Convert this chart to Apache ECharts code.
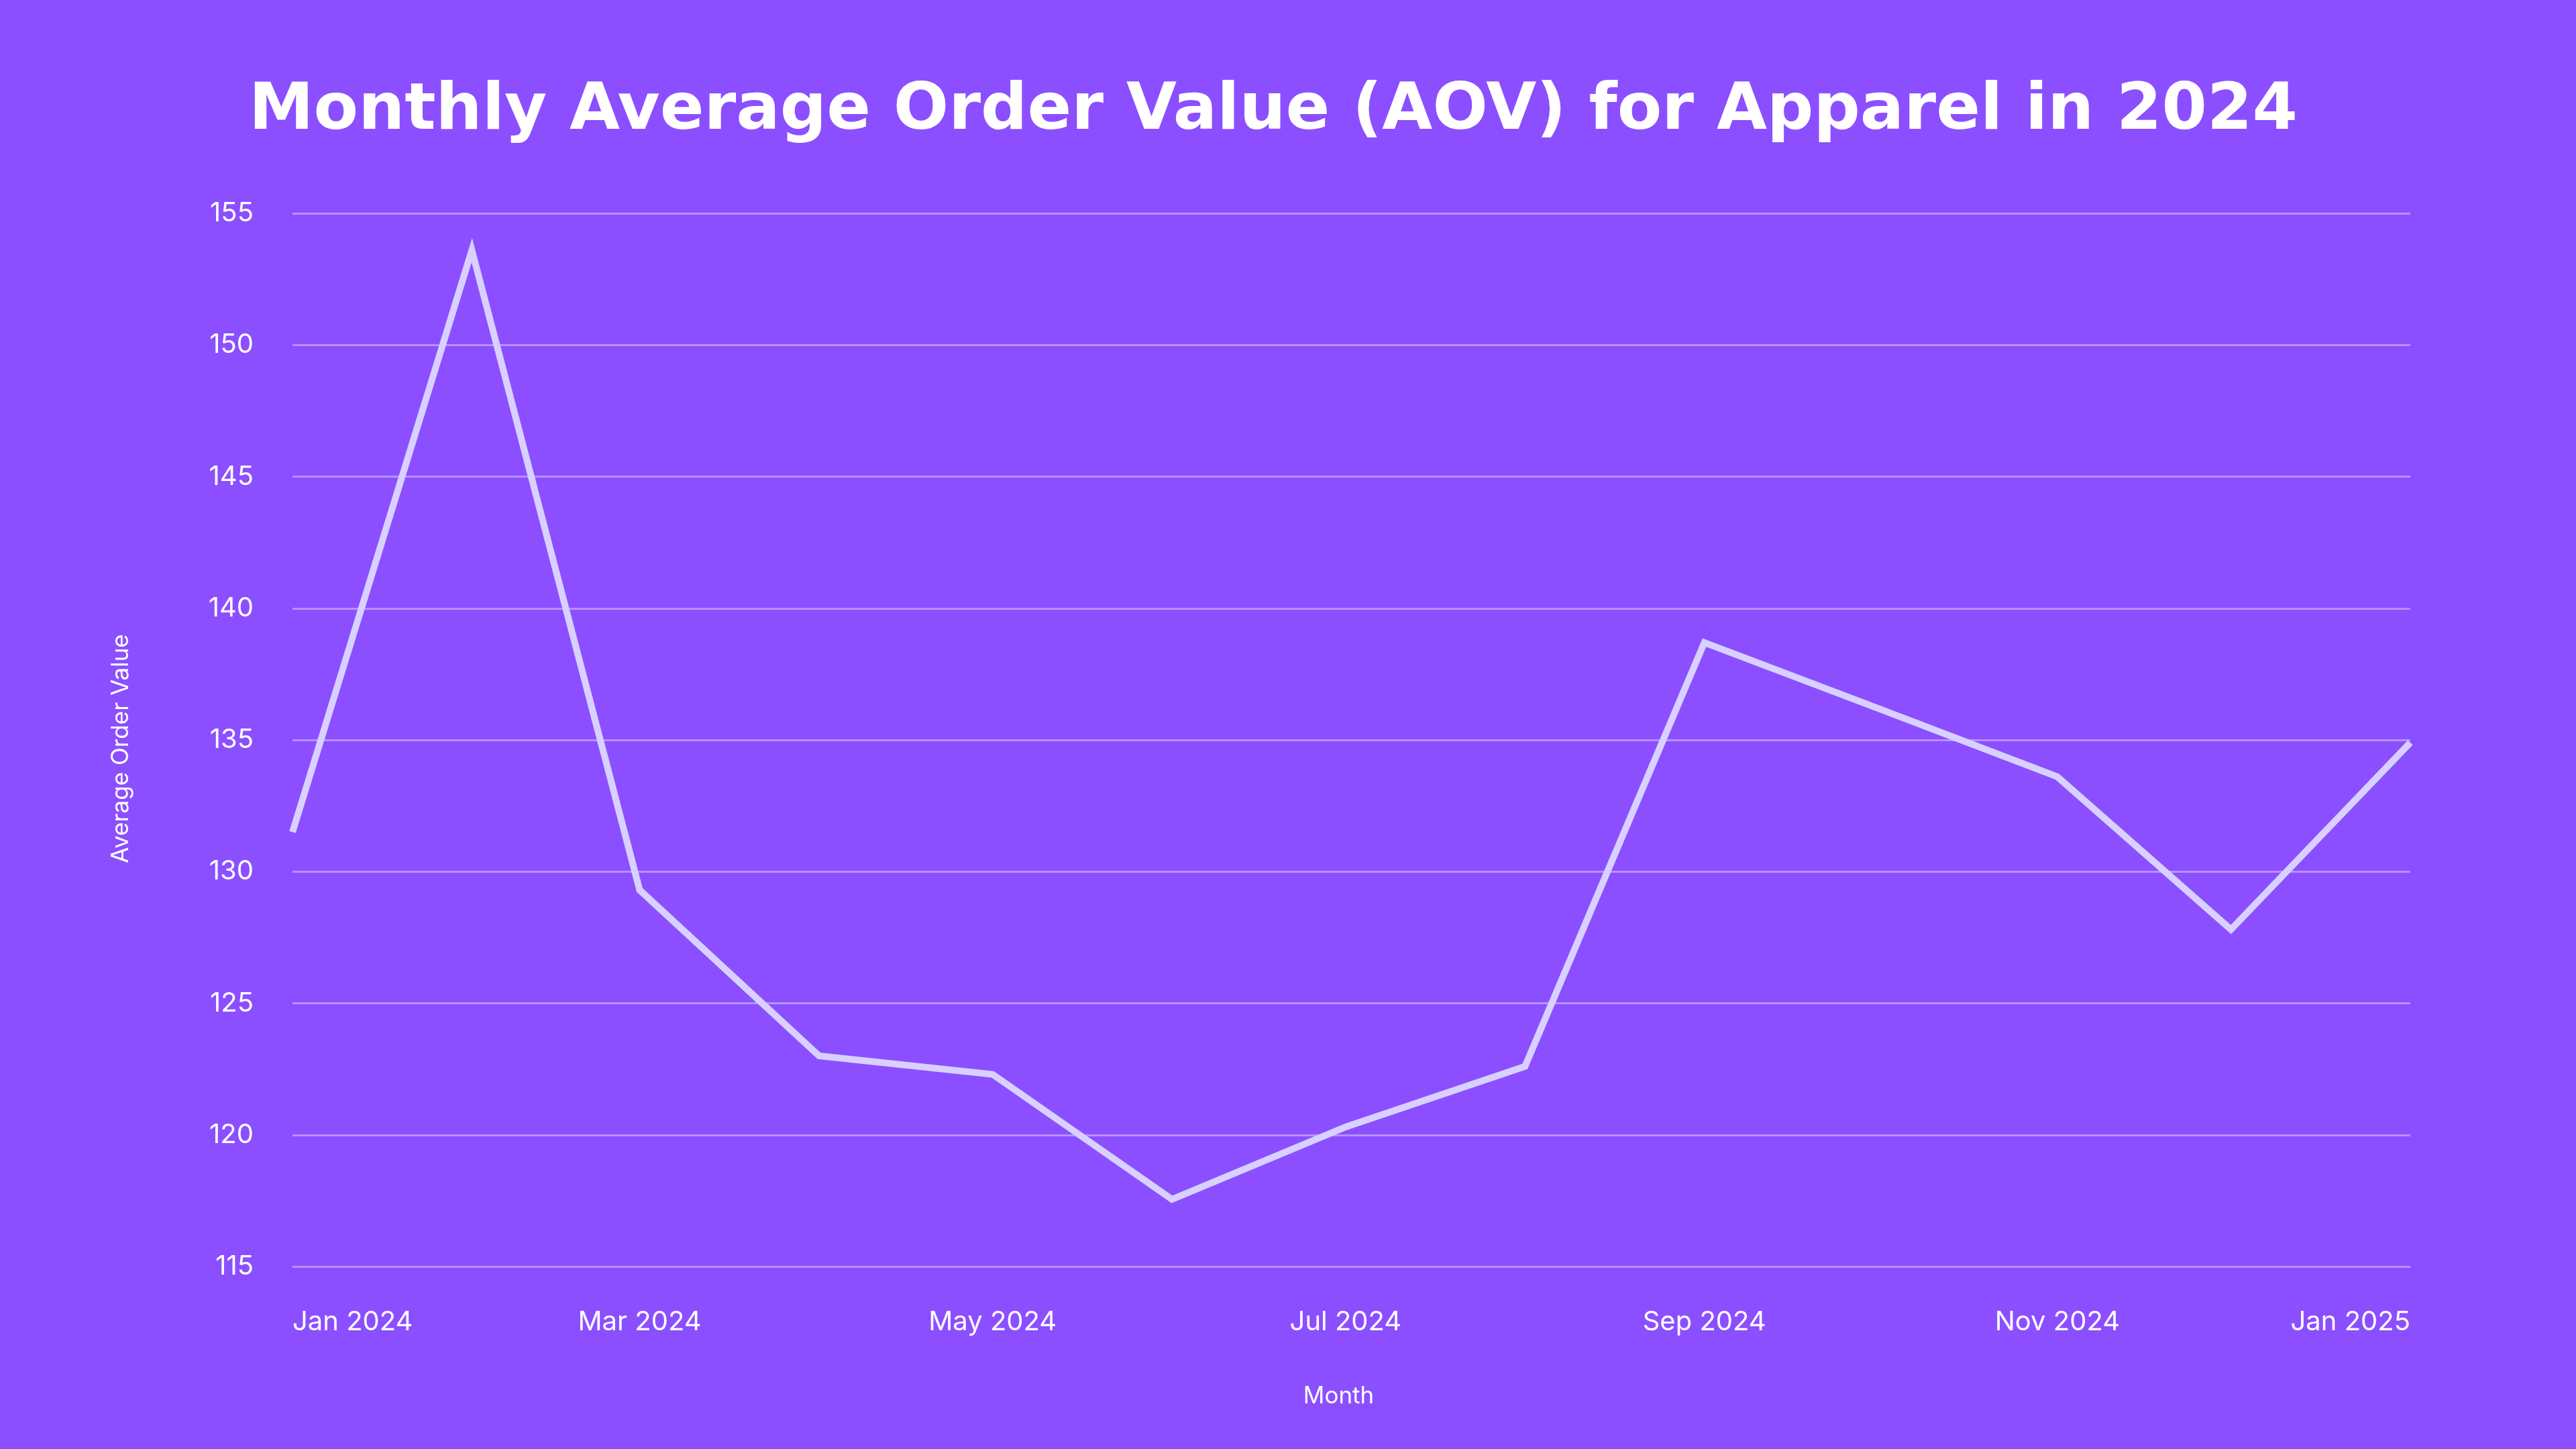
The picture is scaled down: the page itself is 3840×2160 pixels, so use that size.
<!DOCTYPE html>
<html>
<head>
<meta charset="utf-8">
<title>Monthly Average Order Value (AOV) for Apparel in 2024</title>
<script src="https://cdn.jsdelivr.net/npm/echarts@6/dist/echarts.min.js"></script>
<style>
  html, body { margin: 0; padding: 0; background: #8B4FFF; }
  #chart { width: 3840px; height: 2160px; }
</style>
</head>
<body>
<div id="chart"></div>
<script>
// month starts, Jan 2024 .. Jan 2025
const months = [
  "2024-01-01", "2024-02-01", "2024-03-01", "2024-04-01", "2024-05-01", "2024-06-01",
  "2024-07-01", "2024-08-01", "2024-09-01", "2024-10-01", "2024-11-01", "2024-12-01",
  "2025-01-01"
]
const aov = [131.5, 153.6, 129.3, 123.0, 122.3, 117.55, 120.3, 122.6, 138.7, 136.2, 133.6, 127.8, 134.9]
const monthNames = ["Jan", "Feb", "Mar", "Apr", "May", "Jun", "Jul", "Aug", "Sep", "Oct", "Nov", "Dec"]
const yMin = 115
const yMax = 155
const yStep = 5

const chart = echarts.init(document.getElementById("chart"))

const option = {
  backgroundColor: "#8B4FFF",
  animation: false,
  title: {
    text: "Monthly Average Order Value (AOV) for Apparel in 2024",
    left: 366,
    top: 113,
    textStyle: {
      color: "#ffffff",
      fontFamily: "DejaVu Sans",
      fontWeight: "bold",
      fontSize: 97,
    },
  },
  grid: {
    left: 436,
    right: 247,
    top: 318,
    bottom: 272,
  },
  xAxis: {
    type: "time",
    min: months[0],
    max: months[months.length - 1],
    splitNumber: 6,
    name: "Month",
    nameLocation: "middle",
    nameGap: 176,
    nameTextStyle: {
      color: "#ffffff",
      fontFamily: "Inter",
      fontSize: 35,
      padding: [0, 38, 0, 0],
    },
    axisLine: { show: false },
    axisTick: { show: false },
    splitLine: { show: false },
    axisLabel: {
      color: "#ffffff",
      fontFamily: "Inter",
      fontSize: 40,
      margin: 63,
      showMinLabel: true,
      showMaxLabel: true,
      alignMinLabel: "left",
      alignMaxLabel: "right",
      formatter: val => {
        const d = new Date(val)
        return monthNames[d.getMonth()] + " " + d.getFullYear()
      },
    },
  },
  yAxis: {
    type: "value",
    min: yMin,
    max: yMax,
    interval: yStep,
    name: "Average Order Value",
    nameLocation: "middle",
    nameGap: 238,
    nameTextStyle: {
      color: "#ffffff",
      fontFamily: "Inter",
      fontSize: 35,
      padding: [0, 26, 0, 0],
    },
    axisLine: { show: false },
    axisTick: { show: false },
    axisLabel: {
      color: "#ffffff",
      fontFamily: "Inter",
      fontSize: 40,
      margin: 58,
    },
    splitLine: {
      lineStyle: { color: "rgba(255,255,255,0.38)", width: 3 },
    },
  },
  series: [
    {
      type: "line",
      name: "AOV",
      data: months.map((m, i) => [m, aov[i]]),
      showSymbol: false,
      smooth: false,
      lineStyle: {
        color: "#D8D0FF",
        width: 10,
        join: "miter",
      },
    },
  ],
}

chart.setOption(option)
</script>
</body>
</html>
